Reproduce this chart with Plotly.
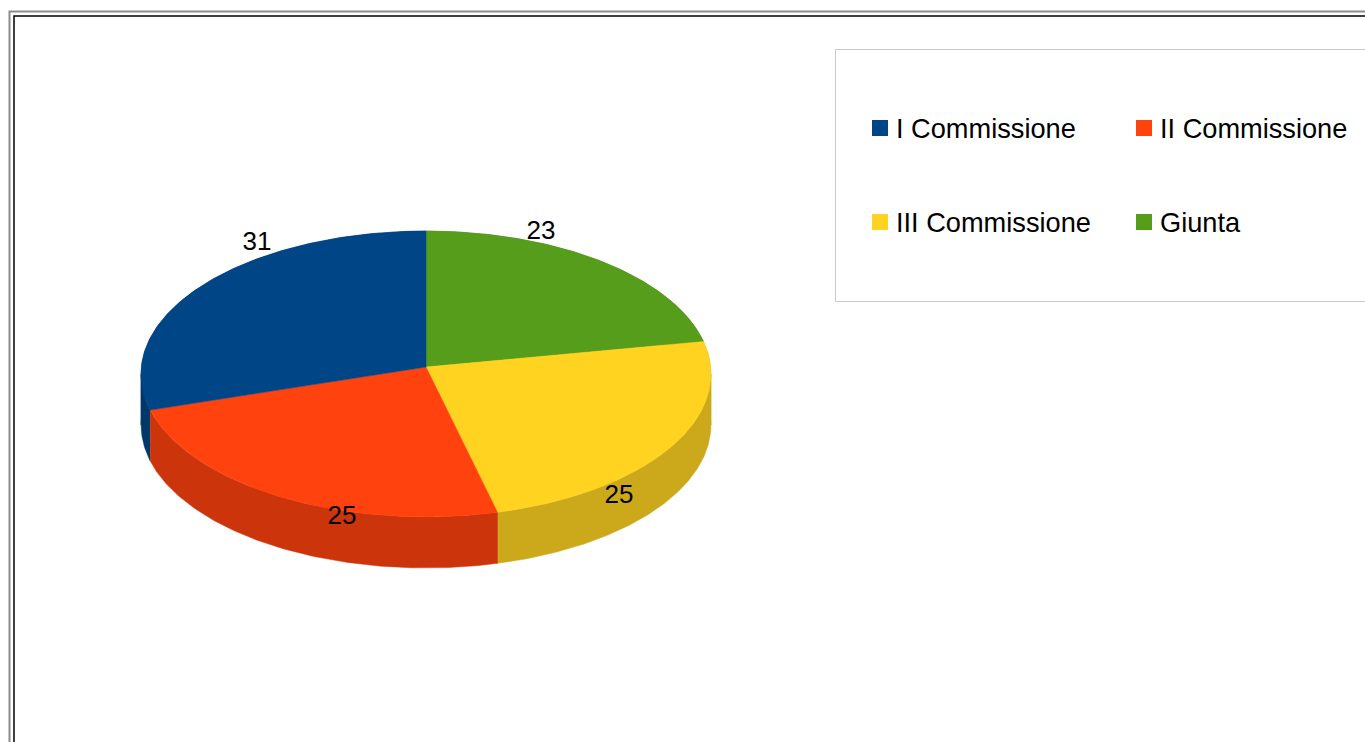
import numpy as np
import plotly.graph_objects as go

# Chart data
categories = ["I Commissione", "II Commissione", "III Commissione", "Giunta"]
values = [31, 25, 25, 23]
top_colors = ["#004586", "#ff420e", "#ffd320", "#579d1c"]
side_colors = ["#00386b", "#cc340b", "#cca91a", "#467e16"]

# Clockwise drawing order starting at twelve o'clock
slice_order = [3, 2, 1, 0]

# Disc geometry in canvas pixels
CX, CY = 426.0, 367.0
RX, RY = 284.6, 142.6
TILT = 0.049
DEPTH = 51.0

# Label anchors, one per category
label_x = [257, 342, 619, 541]
label_y = [243, 517, 496, 232]

# Legend layout
legend_x = [880, 1144, 880, 1144]
legend_y = [128, 128, 222, 222]


def rim(theta):
    """Project angles on the disc rim to canvas pixels with a slight perspective."""
    u, v = np.sin(theta), np.cos(theta)
    w = 1 + TILT * v
    return CX + RX * u / w, CY - RY * v / w


def wall_pieces(theta):
    """Side wall outlines, cut where the rim turns back so each part fills fully."""
    turn = np.arccos(-TILT)
    cuts = [theta[0]]
    cuts += [c for c in (turn, 2 * np.pi - turn) if theta[0] < c < theta[-1]]
    cuts.append(theta[-1])
    pieces = []
    for a, b in zip(cuts[:-1], cuts[1:]):
        x, y = rim(np.linspace(a, b, 120))
        pieces.append((
            np.concatenate([x, x[::-1], x[:1]]),
            np.concatenate([y, y[::-1] + DEPTH, y[:1]]),
        ))
    return pieces


fig = go.Figure()

total = sum(values)
start = 0.0
sectors = {}
for i in slice_order:
    sweep = 2 * np.pi * values[i] / total
    sectors[i] = np.linspace(start, start + sweep, 160)
    start += sweep

# Side walls first, from the back of the disc towards the viewer
for i in [3, 0, 2, 1]:
    for x, y in wall_pieces(sectors[i]):
        fig.add_trace(go.Scatter(
            x=x, y=y,
            mode="lines", fill="toself", fillcolor=side_colors[i],
            line=dict(width=0.5, color=side_colors[i]),
            hoverinfo="skip", showlegend=False,
        ))

# Top faces
for i in slice_order:
    x, y = rim(sectors[i])
    fig.add_trace(go.Scatter(
        x=np.concatenate([[CX], x, [CX]]),
        y=np.concatenate([[CY], y, [CY]]),
        mode="lines", fill="toself", fillcolor=top_colors[i],
        line=dict(width=0.5, color=top_colors[i]),
        name=categories[i], text=[f"{categories[i]}: {values[i]}"] * 162,
        hoverinfo="text", showlegend=False,
    ))

# Value labels
fig.add_trace(go.Scatter(
    x=label_x, y=label_y, mode="text",
    text=[str(v) for v in values],
    textposition="middle center",
    textfont=dict(family="Liberation Sans", size=26, color="#000000"),
    hoverinfo="skip", showlegend=False,
))

# Legend swatches and entries
fig.add_trace(go.Scatter(
    x=legend_x, y=legend_y, mode="markers",
    marker=dict(symbol="square", size=16, color=top_colors, line=dict(width=0)),
    hoverinfo="skip", showlegend=False,
))
annotations = [
    dict(x=lx + 13.5, y=ly + 0.8, text=name, xref="x", yref="y", showarrow=False,
         xanchor="left", yanchor="middle",
         font=dict(family="Liberation Sans", size=27.2, color="#000000"))
    for lx, ly, name in zip(legend_x, legend_y, categories)
]

# Legend box and the double page frame
shapes = [
    dict(type="rect", x0=835.5, x1=1400, y0=49.5, y1=301.5,
         line=dict(color="#c8c8c8", width=1), fillcolor="rgba(0,0,0,0)"),
    dict(type="rect", x0=9.5, x1=1400, y0=11.5, y1=800,
         line=dict(color="#8c8c8c", width=2), fillcolor="rgba(0,0,0,0)"),
    dict(type="rect", x0=14, x1=1400, y0=16, y1=800,
         line=dict(color="#000000", width=1.5), fillcolor="rgba(0,0,0,0)"),
]

fig.update_layout(
    width=1365, height=742, autosize=False,
    margin=dict(l=0, r=0, t=0, b=0),
    paper_bgcolor="#ffffff", plot_bgcolor="#ffffff",
    showlegend=False, shapes=shapes, annotations=annotations,
    xaxis=dict(range=[0, 1365], visible=False, fixedrange=True),
    yaxis=dict(range=[742, 0], visible=False, fixedrange=True),
)

fig.write_html("out.html", config=dict(displayModeBar=False))
